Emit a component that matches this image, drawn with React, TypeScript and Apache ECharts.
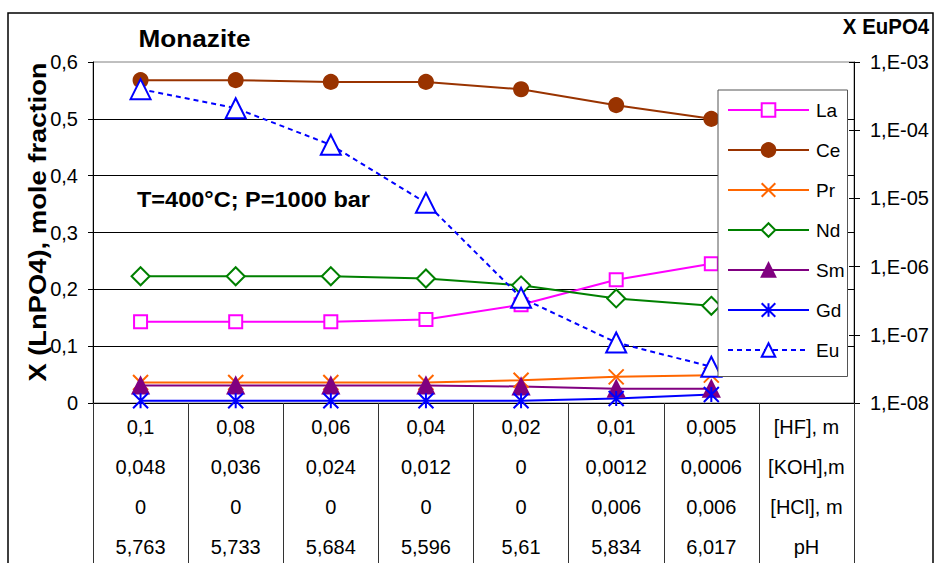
import React, { useEffect, useRef } from "react";
import * as echarts from "echarts";

// ---- data ----
const hfRow = ["0,1", "0,08", "0,06", "0,04", "0,02", "0,01", "0,005", "[HF], m"];
const kohRow = ["0,048", "0,036", "0,024", "0,012", "0", "0,0012", "0,0006", "[KOH],m"];
const hclRow = ["0", "0", "0", "0", "0", "0,006", "0,006", "[HCl], m"];
const phRow = ["5,763", "5,733", "5,684", "5,596", "5,61", "5,834", "6,017", "pH"];

const laValues = [0.143, 0.143, 0.143, 0.147, 0.173, 0.217, 0.245];
const ceValues = [0.568, 0.568, 0.565, 0.565, 0.552, 0.524, 0.5];
const prValues = [0.036, 0.036, 0.036, 0.036, 0.04, 0.046, 0.049];
const ndValues = [0.223, 0.223, 0.223, 0.219, 0.207, 0.184, 0.171];
const smValues = [0.031, 0.031, 0.031, 0.031, 0.029, 0.025, 0.025];
const gdValues = [0.004, 0.004, 0.004, 0.004, 0.004, 0.008, 0.015];
const euValues = [4.0e-4, 2.1e-4, 6.1e-5, 8.6e-6, 3.5e-7, 7.7e-8, 3.4e-8];

const leftTicks = { min: 0, max: 0.6, interval: 0.1 };
const rightTicks = { min: 1e-8, max: 1e-3 };

const FONT = '"Liberation Sans", Arial, sans-serif';

const categories = hfRow.map((h, i) => [h, kohRow[i], hclRow[i], phRow[i]].join("\n"));

const X_PATH = "path://M0,0L10,10M10,0L0,10";
const STAR_PATH = "path://M0,0L10,10M10,0L0,10M5,0L5,10";

function lineSeries(name: string, data: number[], color: string, symbol: string, size: number, fill: string, yAxisIndex = 0, dashed = false) {
  return {
    name,
    type: "line",
    data,
    yAxisIndex,
    symbol,
    symbolSize: size,
    showAllSymbol: true,
    color,
    lineStyle: { color, width: 2, type: dashed ? [5, 4] : "solid" },
    itemStyle: { color: fill, borderColor: color, borderWidth: 2 },
    emphasis: { disabled: true },
    z: 3,
  };
}

export default function App() {
  const ref = useRef<HTMLDivElement>(null);
  useEffect(() => {
    if (!ref.current) return;
    const chart = echarts.init(ref.current, undefined, { renderer: "svg" });
    const fmtLog = (v: number) => {
      const e = Math.round(Math.log10(v));
      return "1,E-" + String(-e).padStart(2, "0");
    };
    chart.setOption({
      animation: false,
      backgroundColor: "#fff",
      textStyle: { fontFamily: FONT },
      grid: {
        left: 93,
        right: 81,
        top: 62,
        bottom: 160,
        outerBoundsMode: "none",
        containLabel: false,
        show: true,
        borderColor: "#808080",
        borderWidth: 1,
        backgroundColor: "transparent",
      },
      legend: {
        orient: "vertical",
        left: 718,
        top: 90,
        padding: [10.5, 3, 17, 9],
        itemGap: 21,
        itemWidth: 81,
        itemHeight: 17,
        backgroundColor: "#fff",
        borderColor: "#555",
        borderWidth: 1,
        selectedMode: false,
        textStyle: { fontSize: 19, color: "#000", fontFamily: FONT, padding: [0, 0, 0, 2] },
        data: ["La", "Ce", "Pr", "Nd", "Sm", "Gd", "Eu"],
        z: 10,
      },
      xAxis: {
        type: "category",
        data: categories,
        boundaryGap: true,
        axisLine: { show: true, lineStyle: { color: "#000", width: 1 } },
        axisTick: { show: true, alignWithLabel: false, interval: 0, length: 162, lineStyle: { color: "#333", width: 1 } },
        axisLabel: { interval: 0, fontSize: 20, lineHeight: 40, margin: 4, color: "#000", fontFamily: FONT },
        splitLine: { show: false },
      },
      yAxis: [
        {
          type: "value",
          min: leftTicks.min,
          max: leftTicks.max,
          interval: leftTicks.interval,
          position: "left",
          axisLine: { show: true, lineStyle: { color: "#000", width: 1 } },
          axisTick: { show: true, length: 5, lineStyle: { color: "#000" } },
          axisLabel: {
            fontSize: 20,
            color: "#000",
            margin: 15,
            fontFamily: FONT,
            formatter: (v: number) => String(Math.round(v * 10) / 10).replace(".", ","),
          },
          splitLine: { show: true, showMaxLine: false, lineStyle: { color: "#000", width: 1 } },
        },
        {
          type: "log",
          logBase: 10,
          min: rightTicks.min,
          max: rightTicks.max,
          position: "right",
          axisLine: { show: true, lineStyle: { color: "#000", width: 1 } },
          axisTick: { show: true, length: 6, lineStyle: { color: "#000" } },
          minorTick: { show: false },
          axisLabel: { fontSize: 20, color: "#000", margin: 16, fontFamily: FONT, formatter: fmtLog },
          splitLine: { show: false },
        },
        {
          type: "log",
          logBase: 10,
          min: rightTicks.min,
          max: rightTicks.max,
          position: "right",
          axisLine: { show: false },
          axisTick: { show: true, inside: true, length: 5, lineStyle: { color: "#000" } },
          axisLabel: { show: false },
          splitLine: { show: false },
        },
      ],
      series: [
        lineSeries("La", laValues, "#FF00FF", "rect", 13, "#fff"),
        lineSeries("Ce", ceValues, "#993300", "circle", 14, "#993300"),
        lineSeries("Pr", prValues, "#FF6600", X_PATH, 15, "#FF6600"),
        lineSeries("Nd", ndValues, "#008000", "diamond", 18, "#fff"),
        lineSeries("Sm", smValues, "#800080", "triangle", 16, "#800080"),
        lineSeries("Gd", gdValues, "#0000FF", STAR_PATH, 15, "#0000FF"),
        lineSeries("Eu", euValues, "#0000FF", "triangle", 20, "#fff", 1, true),
      ],
      graphic: [
        {
          type: "rect",
          silent: true,
          z: 100,
          shape: { x: 8, y: 13, width: 925, height: 620 },
          style: { fill: "none", stroke: "#000", lineWidth: 1.5 },
        },
        {
          type: "text",
          x: 194.5,
          y: 38.5,
          scaleX: 1.09,
          style: { text: "Monazite", fontSize: 24, fontWeight: "bold", fontFamily: FONT, fill: "#000", align: "center", verticalAlign: "middle", textAlign: "center", textVerticalAlign: "middle" },
        },
        {
          type: "text",
          x: 253.5,
          y: 199,
          scaleX: 1.07,
          style: { text: "T=400°C; P=1000 bar", fontSize: 22, fontWeight: "bold", fontFamily: FONT, fill: "#000", align: "center", verticalAlign: "middle", textAlign: "center", textVerticalAlign: "middle" },
        },
        {
          type: "text",
          x: 886,
          y: 27,
          scaleX: 0.93,
          style: { text: "X EuPO4", fontSize: 22, fontWeight: "bold", fontFamily: FONT, fill: "#000", align: "center", verticalAlign: "middle", textAlign: "center", textVerticalAlign: "middle" },
        },
        {
          type: "text",
          x: 38,
          y: 222,
          rotation: Math.PI / 2,
          scaleX: 1.19,
          style: { text: "X (LnPO4), mole fraction", fontSize: 23, fontWeight: "bold", fontFamily: FONT, fill: "#000", align: "center", verticalAlign: "middle", textAlign: "center", textVerticalAlign: "middle" },
        },
      ],
    });
    return () => chart.dispose();
  }, []);
  return <div ref={ref} style={{ position: "absolute", left: 0, top: 0, width: 935, height: 563, background: "#fff" }} />;
}
